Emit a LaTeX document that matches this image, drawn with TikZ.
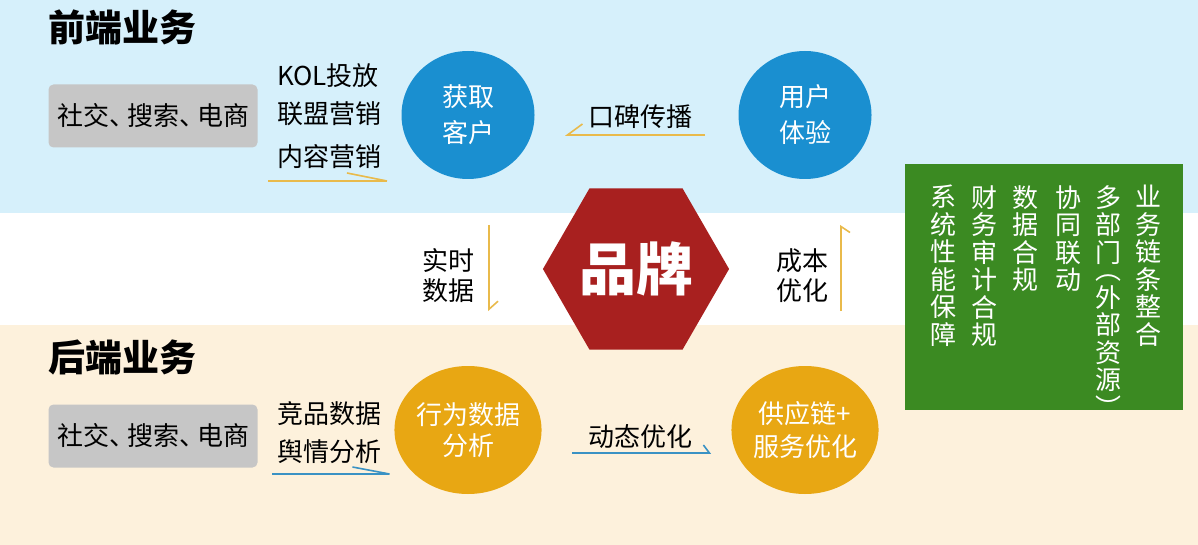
\documentclass[tikz,border=0pt]{standalone}
\usepackage{fontspec}
\setmainfont{Noto Sans CJK SC}
\usetikzlibrary{shapes.geometric,arrows.meta}
\definecolor{bandblue}{RGB}{214,240,251}
\definecolor{bandbeige}{RGB}{253,241,220}
\definecolor{ballblue}{RGB}{26,143,208}
\definecolor{ballgold}{RGB}{232,167,19}
\definecolor{brandred}{RGB}{168,32,31}
\definecolor{boxgreen}{RGB}{59,138,34}
\definecolor{boxgray}{RGB}{198,198,198}
\definecolor{linegold}{RGB}{233,186,75}
\definecolor{lineblue}{RGB}{58,146,196}
\newcommand\dunhao{、\kern-8pt}
\tikzset{
  txt/.style={inner sep=0pt, font=\fontsize{26}{30}\selectfont},
  head/.style={inner sep=0pt, font=\fontsize{37}{40}\selectfont\bfseries},
  srcbox/.style={txt, fill=boxgray, rounded corners=5pt, minimum width=209pt, minimum height=63pt},
  ball/.style={ellipse, minimum width=133pt, minimum height=128pt, inner sep=0pt,
    text=white, align=center, font=\fontsize{26}{#1}\selectfont},
  col/.style={txt, anchor=north, text=white, align=center, font=\fontsize{26}{27.5}\selectfont},
  flow/.style={line width=1.6pt, -{Straight Barb[#1]}},
}
\begin{document}
\begin{tikzpicture}[x=1pt,y=-1pt]
  \useasboundingbox (0,0) rectangle (1198,545);
  \fill[bandblue] (0,0) rectangle (1198,213);
  \fill[bandbeige] (0,325) rectangle (1198,545);

  \draw
    (122,27) node[head] (front){前端业务}
    (153,116) node[srcbox] (src1){社交\dunhao 搜索\dunhao 电商}
    (277,76) node[txt,anchor=west] (kol){KOL投放}
    (277,114) node[txt,anchor=west] (union){联盟营销}
    (277,157) node[txt,anchor=west] (content){内容营销}
    (468,115) node[ball=36,fill=ballblue] (gain){获取\\客户}
    (640,117) node[txt] (word){口碑传播}
    (805,115) node[ball=36,fill=ballblue] (exp){用户\\体验};

  \draw
    (636,269) node[regular polygon, regular polygon sides=6, minimum size=182pt,
      inner sep=0pt, fill=brandred, text=white,
      font=\fontsize{57}{60}\selectfont\bfseries] (brand){品牌}
    (448,276) node[txt,align=center] (realtime){实时\\数据}
    (802,276) node[txt,align=center] (cost){成本\\优化};

  \draw
    (122,357) node[head] (back){后端业务}
    (153,436) node[srcbox] (src2){社交\dunhao 搜索\dunhao 电商}
    (277,414) node[txt,anchor=west] (rival){竞品数据}
    (277,452) node[txt,anchor=west] (public){舆情分析}
    (468,430) node[ball=31,fill=ballgold] (behave){行为数据\\分析}
    (640,437) node[txt] (dyn){动态优化}
    (805,430) node[ball=33,fill=ballgold] (supply){供应链+\\服务优化};

  \fill[boxgreen] (905,164) rectangle (1183,410);
  \draw
    (1148,185) node[col] (c1){业\\务\\链\\条\\整\\合}
    (1108,185) node[col] (c2){多\\部\\门\\[-10pt]︵\\外\\部\\资\\源\\︶}
    (1068,185) node[col] (c3){协\\同\\联\\动}
    (1025,185) node[col] (c4){数\\据\\合\\规}
    (984,185) node[col] (c5){财\\务\\审\\计\\合\\规}
    (943,185) node[col] (c6){系\\统\\性\\能\\保\\障};

  \coordinate (a1) at (268,181);  \coordinate (b1) at (395,181);
  \coordinate (a2) at (705,135);  \coordinate (b2) at (565,135);
  \coordinate (a3) at (489,225);  \coordinate (b3) at (489,311);
  \coordinate (a4) at (841,311);  \coordinate (b4) at (841,225);
  \coordinate (a5) at (272,474);  \coordinate (b5) at (398,474);
  \coordinate (a6) at (572,453);  \coordinate (b6) at (711,453);
  \begin{scope}[draw=linegold]
    \draw[flow={left,length=40pt,width=16pt}] (a1) -- (b1);
    \draw[flow={right,length=15pt,width=22pt}] (a2) -- (b2);
    \draw[flow={left,length=8pt,width=18pt}] (a3) -- (b3);
    \draw[flow={right,length=6pt,width=18pt}] (a4) -- (b4);
  \end{scope}
  \begin{scope}[draw=lineblue]
    \draw[flow={left,length=37pt,width=14pt}] (a5) -- (b5);
    \draw[flow={left,length=6pt,width=16pt}] (a6) -- (b6);
  \end{scope}
\end{tikzpicture}
\end{document}
